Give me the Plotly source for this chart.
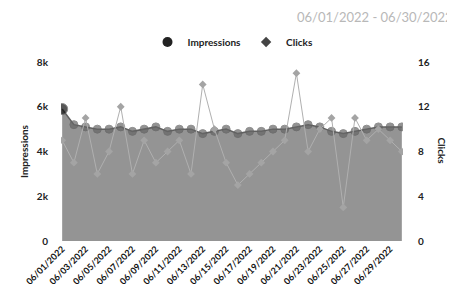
import plotly.graph_objects as go

dates = [f"06/{d:02d}/2022" for d in range(1, 31)]
impressions = [5900, 5200, 5100, 5000, 5000, 5100, 4900, 5000, 5100, 4900,
               5000, 5000, 4800, 4900, 5000, 4800, 4900, 4900, 5000, 5000,
               5100, 5200, 5100, 4900, 4800, 4900, 5000, 5100, 5100, 5100]
clicks = [9, 7, 11, 6, 8, 12, 6, 9, 7, 8,
          9, 6, 14, 10, 7, 5, 6, 7, 8, 9,
          15, 8, 10, 11, 3, 11, 9, 10, 9, 8]
tick_labels = dates[::2]
date_range = "06/01/2022 - 06/30/2022"

# page body has an 8px margin; figure coordinates are offset by it
W, H = 447, 292
L, R, T, B = 53, 395, 54, 233  # plot area edges in figure pixels

fig = go.Figure()
fig.add_trace(go.Scatter(
    x=dates, y=impressions, name="Impressions", mode="lines+markers",
    fill="tozeroy", fillcolor="rgb(148,148,148)", showlegend=False,
    line=dict(color="#606060", width=1.5),
    marker=dict(symbol="circle", color=["#111"] + ["#666"] * 29,
                size=[11] + [8] * 29),
))
fig.add_trace(go.Scatter(
    x=dates, y=clicks, name="Clicks", mode="lines+markers", yaxis="y2",
    showlegend=False,
    line=dict(color="#b0b0b0", width=1),
    marker=dict(symbol="diamond", color="#a4a4a4", size=6),
))
# legend-only entries (markers only)
fig.add_trace(go.Scatter(x=[None], y=[None], name="Impressions", mode="markers",
                         marker=dict(symbol="circle", color="#222", size=10)))
fig.add_trace(go.Scatter(x=[None], y=[None], name="Clicks", mode="markers",
                         marker=dict(symbol="diamond", color="#444", size=8)))

fig.update_layout(
    width=W, height=H,
    margin=dict(l=L, r=W - R, t=T, b=H - B),
    paper_bgcolor="white", plot_bgcolor="white",
    font=dict(family="Lato", size=10, color="#222", weight="bold"),
    showlegend=True,
    legend=dict(orientation="h", xref="container", yref="container",
                x=(233 - 8) / W, y=1 - (42 - 8) / H, xanchor="center", yanchor="middle",
                font=dict(family="Lato", size=10, color="#222", weight="bold"),
                itemwidth=30, bgcolor="rgba(0,0,0,0)"),
    xaxis=dict(type="category", range=[-0.1, 29.1], showgrid=False,
               zeroline=False, showline=False, automargin=False,
               tickmode="array", tickvals=tick_labels, ticktext=tick_labels,
               tickangle=-45, tickfont=dict(family="Lato", size=9, color="#111", weight="bold")),
    yaxis=dict(range=[0, 8000], tickvals=[0, 2000, 4000, 6000, 8000],
               ticktext=["0", "2k", "4k", "6k", "8k"], showgrid=False,
               zeroline=False, showline=False, ticklabelstandoff=12,
               automargin=False,
               title=dict(text="Impressions", standoff=6,
                          font=dict(family="Lato", size=10, color="#222", weight="bold"))),
    yaxis2=dict(range=[0, 16], tickvals=[0, 4, 8, 12, 16], overlaying="y",
                side="right", showgrid=False, zeroline=False, showline=False,
                ticklabelstandoff=14, automargin=False),
    annotations=[
        dict(text=date_range, xref="paper", yref="paper",
             x=(295 - 8 - L) / (R - L), y=(B - (17 - 8)) / (B - T),
             xanchor="left", yanchor="middle", showarrow=False,
             font=dict(family="Lato", size=13, color="#b8b8b8", weight="normal")),
        dict(text="Clicks", xref="paper", yref="paper",
             x=(442 - 8 - L) / (R - L), y=0.5,
             xanchor="center", yanchor="middle", showarrow=False, textangle=90,
             font=dict(family="Lato", size=10, color="#222")),
    ],
)

fig.write_html("out.html")
